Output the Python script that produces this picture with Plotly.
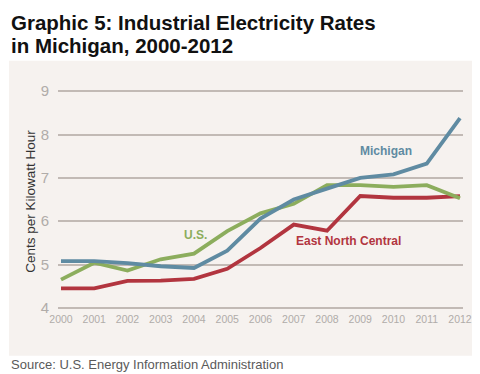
import plotly.graph_objects as go

years = list(range(2000, 2013))
michigan = [5.08, 5.08, 5.03, 4.96, 4.92, 5.32, 6.06, 6.50, 6.75, 7.00, 7.08, 7.33, 8.38]
us = [4.65, 5.04, 4.86, 5.12, 5.25, 5.77, 6.18, 6.40, 6.83, 6.83, 6.79, 6.83, 6.53]
enc = [4.45, 4.45, 4.62, 4.63, 4.67, 4.90, 5.38, 5.92, 5.78, 6.58, 6.54, 6.54, 6.58]
y_ticks = [4, 5, 6, 7, 8, 9]

BLUE = "#5f8ba2"
GREEN = "#8cad5d"
RED = "#b2353f"
PANEL = "#f6f2ef"
GRID = "#c2bab5"
FONT = "Liberation Sans, Arial, sans-serif"

W, H = 480, 374
unit = (300 - 83.33) / 5.0
pad = 0.05
L, R = 50, 455                      # plot area pixel x
T, B = 83.33 - pad * unit, 300 + pad * unit
pw, ph = R - L, B - T

def px(x):
    return (x - L) / pw

def py(y):
    return (B - y) / ph

fig = go.Figure()
fig.add_trace(go.Scatter(x=years, y=enc, mode="lines", line=dict(color=RED, width=3.8), hoverinfo="skip"))
fig.add_trace(go.Scatter(x=years, y=us, mode="lines", line=dict(color=GREEN, width=3.8), hoverinfo="skip"))
fig.add_trace(go.Scatter(x=years, y=michigan, mode="lines", line=dict(color=BLUE, width=3.8), hoverinfo="skip"))

step = (452 - 53) / 12.0
x0 = 2000 - (53 - L) / step
x1 = 2012 + (R - 452) / step

fig.update_layout(
    width=W, height=H,
    margin=dict(l=L, r=W - R, t=T, b=H - B, pad=0),
    paper_bgcolor="white",
    plot_bgcolor="rgba(0,0,0,0)",
    showlegend=False,
    font=dict(family=FONT),
    xaxis=dict(range=[x0, x1], tickmode="array", tickvals=years, ticktext=[str(y) for y in years],
               showgrid=False, zeroline=False, showline=False, ticks="", ticklabelstandoff=1,
               tickfont=dict(size=10.5, color="#b0aca9", family=FONT)),
    yaxis=dict(range=[4 - pad, 9 + pad], tickmode="array", tickvals=y_ticks, showgrid=True, gridcolor=GRID,
               gridwidth=2, zeroline=False, showline=False, ticks="outside", ticklen=5,
               tickcolor="rgba(0,0,0,0)", tickfont=dict(size=15, color="#b0aca9", family=FONT)),
    shapes=[dict(type="rect", xref="paper", yref="paper", x0=px(1), x1=px(478), y0=py(348), y1=py(53),
                 fillcolor=PANEL, line=dict(width=0), layer="below")],
)

ann = []
ann.append(dict(text="<b>Graphic 5: Industrial Electricity Rates</b>", x=px(1), y=py(1), xanchor="left", yanchor="top",
                font=dict(size=20.5, color="#111", family=FONT)))
ann.append(dict(text="<b>in Michigan, 2000-2012</b>", x=px(1), y=py(24), xanchor="left", yanchor="top",
                font=dict(size=20.5, color="#111", family=FONT)))
ann.append(dict(text="Cents per Kilowatt Hour", x=px(23), y=py(194), textangle=-90, xanchor="center", yanchor="middle",
                font=dict(size=13.5, color="#333", family=FONT)))
ann.append(dict(text="<b>Michigan</b>", x=px(378), y=py(143), xanchor="center", yanchor="middle",
                font=dict(size=12, color=BLUE, family=FONT)))
ann.append(dict(text="<b>U.S.</b>", x=px(187), y=py(227), xanchor="center", yanchor="middle",
                font=dict(size=12, color=GREEN, family=FONT)))
ann.append(dict(text="<b>East North Central</b>", x=px(340), y=py(233), xanchor="center", yanchor="middle",
                font=dict(size=12, color=RED, family=FONT)))
ann.append(dict(text="Source: U.S. Energy Information Administration", x=px(1), y=py(357), xanchor="left", yanchor="middle",
                font=dict(size=13, color="#5a5a5a", family=FONT)))
for a in ann:
    a.update(xref="paper", yref="paper", showarrow=False)
fig.update_layout(annotations=ann)

fig.write_html("out.html")
